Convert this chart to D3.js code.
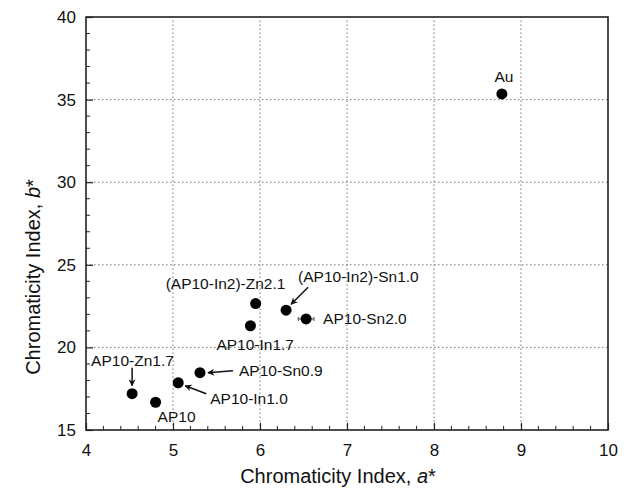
<!DOCTYPE html>
<html>
<head>
<meta charset="utf-8">
<script src="https://cdn.jsdelivr.net/npm/d3@7.9.0/dist/d3.min.js"></script>
<style>
  body { margin: 0; background: #fff; }
  svg { display: block; font-family: "Liberation Sans", Arial, Helvetica, sans-serif; }
</style>
</head>
<body>
<svg id="chart" width="628" height="494"></svg>
<script>
// samples and their CIE a*, b* values
const samples = ['Au', '(AP10-In2)-Zn2.1', '(AP10-In2)-Sn1.0', 'AP10-Sn2.0', 'AP10-In1.7',
                 'AP10-Sn0.9', 'AP10-In1.0', 'AP10-Zn1.7', 'AP10'];
const aStar = [8.78, 5.95, 6.30, 6.53, 5.89, 5.31, 5.06, 4.53, 4.80];
const bStar = [35.34, 22.65, 22.25, 21.72, 21.31, 18.47, 17.86, 17.20, 16.68];
const aErr  = [0, 0, 0, 0.09, 0, 0, 0, 0, 0];

const xTicks = [4, 5, 6, 7, 8, 9, 10];
const yTicks = [15, 20, 25, 30, 35, 40];

// label placement (pixel offsets from each point), and optional arrows
const labelPos = [
  { dx: 2, dy: -12, anchor: 'middle' },
  { dx: -90, dy: -15 },
  { dx: 12, dy: -28, arrow: [22, -23, 5, -6] },
  { dx: 17, dy: 5 },
  { dx: -34, dy: 24 },
  { dx: 39, dy: 3, arrow: [33, -2, 8, 0] },
  { dx: 32, dy: 21, arrow: [28, 11, 7, 3] },
  { dx: -41, dy: -28, arrow: [0, -26, 0, -8] },
  { dx: 2, dy: 20 }
];

const margin = { top: 17, right: 20, bottom: 64, left: 86 };
const width = 628, height = 494;

const svg = d3.select('#chart');

const x = d3.scaleLinear().domain([4, 10]).range([margin.left, width - margin.right]);
const y = d3.scaleLinear().domain([15, 40]).range([height - margin.bottom, margin.top]);

const defs = svg.append('defs');
defs.append('marker')
  .attr('id', 'head')
  .attr('viewBox', '0 0 10 10')
  .attr('refX', 9).attr('refY', 5)
  .attr('markerWidth', 7).attr('markerHeight', 7)
  .attr('markerUnits', 'userSpaceOnUse')
  .attr('orient', 'auto')
  .append('path')
  .attr('d', 'M0,0 L10,5 L0,10 L3,5 Z')
  .attr('fill', '#111');

// dotted grid
const grid = svg.append('g')
  .attr('stroke', '#777')
  .attr('stroke-width', 1)
  .attr('stroke-dasharray', '1.5,2.5');

grid.selectAll('.gx')
  .data(xTicks.slice(1, -1))
  .join('line')
  .attr('x1', d => x(d)).attr('x2', d => x(d))
  .attr('y1', y(15)).attr('y2', y(40));

grid.selectAll('.gy')
  .data(yTicks.slice(1, -1))
  .join('line')
  .attr('x1', x(4)).attr('x2', x(10))
  .attr('y1', d => y(d)).attr('y2', d => y(d));

// axes with inward ticks
const xAxis = d3.axisBottom(x).tickValues(xTicks).tickSize(-7).tickPadding(14).tickFormat(d3.format('d'));
const yAxis = d3.axisLeft(y).tickValues(yTicks).tickSize(-7).tickPadding(10).tickFormat(d3.format('d'));

const gx = svg.append('g')
  .attr('transform', `translate(0,${y(15)})`)
  .call(xAxis);
const gy = svg.append('g')
  .attr('transform', `translate(${x(4)},0)`)
  .call(yAxis);

[gx, gy].forEach(g => {
  g.select('.domain').remove();
  g.selectAll('line').attr('stroke', '#222').attr('stroke-width', 1.2);
  g.selectAll('text').attr('fill', '#111').style('font-size', '17px');
});

// minor ticks
const xMinor = d3.range(4, 10.001, 0.2).filter(v => Math.abs(v - Math.round(v)) > 1e-6);
const yMinor = d3.range(15, 40.001, 1).filter(v => v % 5 !== 0);

svg.append('g').selectAll('line')
  .data(xMinor)
  .join('line')
  .attr('x1', d => x(d)).attr('x2', d => x(d))
  .attr('y1', y(15)).attr('y2', y(15) - 4)
  .attr('stroke', '#222').attr('stroke-width', 1);

svg.append('g').selectAll('line')
  .data(yMinor)
  .join('line')
  .attr('x1', x(4)).attr('x2', x(4) + 4)
  .attr('y1', d => y(d)).attr('y2', d => y(d))
  .attr('stroke', '#222').attr('stroke-width', 1);

// frame
svg.append('rect')
  .attr('x', x(4)).attr('y', y(40))
  .attr('width', x(10) - x(4)).attr('height', y(15) - y(40))
  .attr('fill', 'none')
  .attr('stroke', '#222')
  .attr('stroke-width', 1.6);

// axis titles
const xt = svg.append('text')
  .attr('x', 338).attr('y', 483)
  .attr('text-anchor', 'middle')
  .style('font-size', '20px')
  .attr('fill', '#111');
xt.append('tspan').text('Chromaticity Index, ');
xt.append('tspan').attr('font-style', 'italic').text('a');
xt.append('tspan').text('*');

const yt = svg.append('text')
  .attr('transform', 'translate(40,277) rotate(-90)')
  .attr('text-anchor', 'middle')
  .style('font-size', '20px')
  .attr('fill', '#111');
yt.append('tspan').text('Chromaticity Index, ');
yt.append('tspan').attr('font-style', 'italic').text('b');
yt.append('tspan').text('*');

// error bars
const errIdx = d3.range(samples.length).filter(i => aErr[i] > 0);
const eb = svg.append('g').attr('stroke', '#444').attr('stroke-width', 1);
errIdx.forEach(i => {
  eb.append('line')
    .attr('x1', x(aStar[i] - aErr[i])).attr('x2', x(aStar[i] + aErr[i]))
    .attr('y1', y(bStar[i])).attr('y2', y(bStar[i]));
  [aStar[i] - aErr[i], aStar[i] + aErr[i]].forEach(v => {
    eb.append('line')
      .attr('x1', x(v)).attr('x2', x(v))
      .attr('y1', y(bStar[i]) - 2).attr('y2', y(bStar[i]) + 2);
  });
});

// points
svg.append('g').selectAll('circle')
  .data(samples)
  .join('circle')
  .attr('cx', (d, i) => x(aStar[i]))
  .attr('cy', (d, i) => y(bStar[i]))
  .attr('r', 5.5)
  .attr('fill', '#000');

// labels
svg.append('g').selectAll('text')
  .data(samples)
  .join('text')
  .attr('x', (d, i) => x(aStar[i]) + labelPos[i].dx)
  .attr('y', (d, i) => y(bStar[i]) + labelPos[i].dy)
  .attr('text-anchor', (d, i) => labelPos[i].anchor || 'start')
  .style('font-size', '15.5px')
  .attr('fill', '#111')
  .text(d => d);

// arrows
svg.append('g').selectAll('line')
  .data(d3.range(samples.length).filter(i => labelPos[i].arrow))
  .join('line')
  .attr('x1', i => x(aStar[i]) + labelPos[i].arrow[0])
  .attr('y1', i => y(bStar[i]) + labelPos[i].arrow[1])
  .attr('x2', i => x(aStar[i]) + labelPos[i].arrow[2])
  .attr('y2', i => y(bStar[i]) + labelPos[i].arrow[3])
  .attr('stroke', '#111')
  .attr('stroke-width', 1.5)
  .attr('marker-end', 'url(#head)');
</script>
</body>
</html>
